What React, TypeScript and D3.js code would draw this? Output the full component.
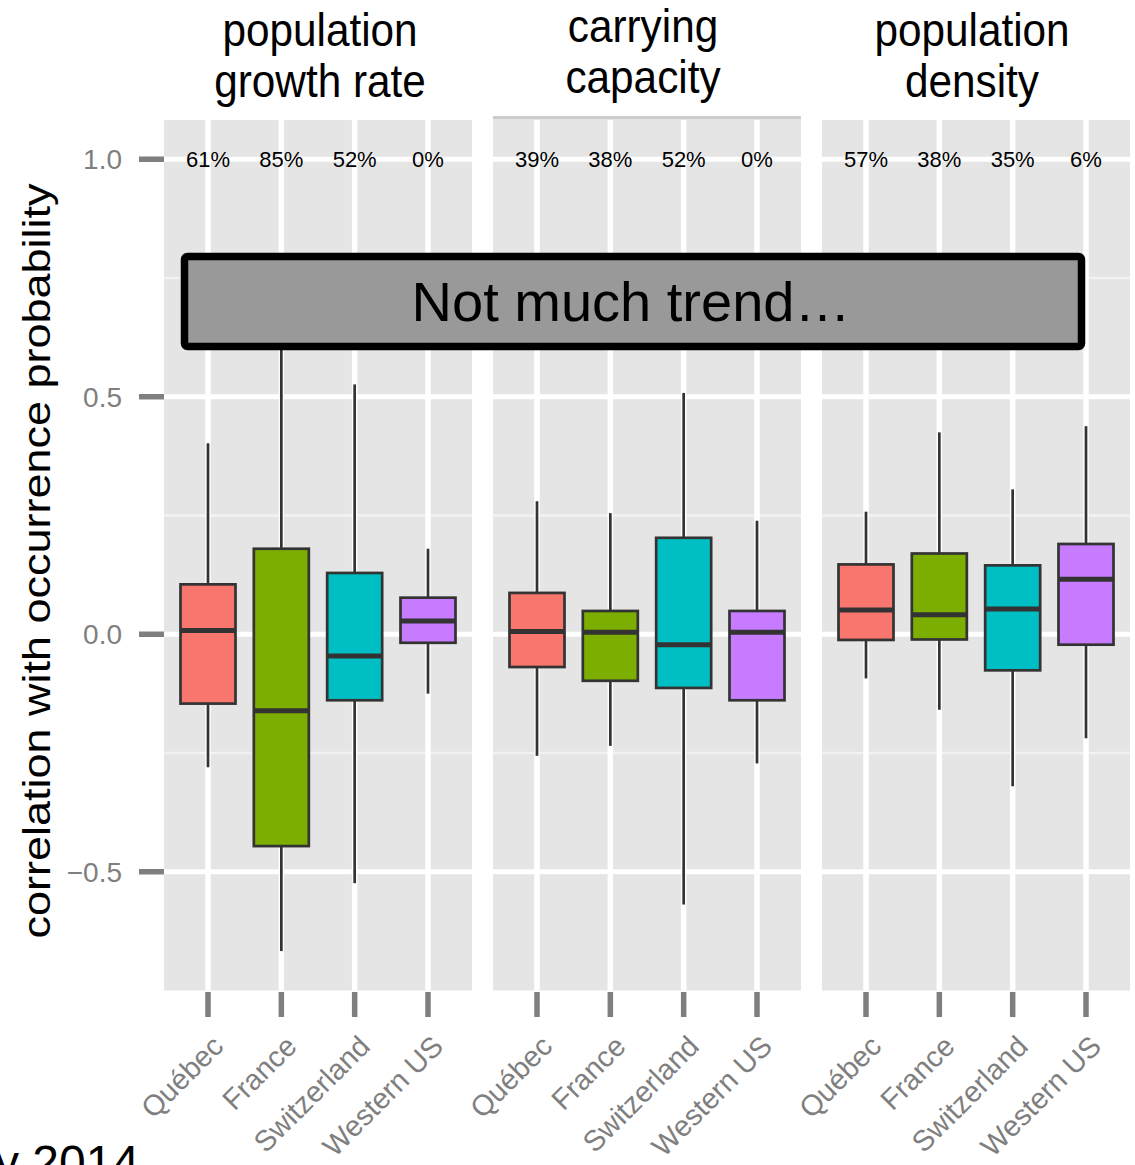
import React from "react";
import * as d3 from "d3";

// Facets (strip titles) and regions on the x axis
const facetTitles = [
  ["population", "growth rate"],
  ["carrying", "capacity"],
  ["population", "density"],
];
const regions = ["Québec", "France", "Switzerland", "Western US"];
const fillColors = ["#F8766D", "#7CAE00", "#00BFC4", "#C77CFF"];

// Share of significant correlations per region, one list per facet
const growthPct = ["61%", "85%", "52%", "0%"];
const capacityPct = ["39%", "38%", "52%", "0%"];
const densityPct = ["57%", "38%", "35%", "6%"];

// Box statistics per region: [lower whisker, Q1, median, Q3, upper whisker]
const growthStats = [
  [-0.28, -0.146, 0.008, 0.105, 0.402],
  [-0.667, -0.446, -0.161, 0.18, 0.8],
  [-0.524, -0.139, -0.046, 0.129, 0.526],
  [-0.125, -0.018, 0.028, 0.077, 0.18],
];
const capacityStats = [
  [-0.256, -0.069, 0.006, 0.087, 0.28],
  [-0.235, -0.098, 0.004, 0.049, 0.255],
  [-0.569, -0.113, -0.022, 0.203, 0.508],
  [-0.272, -0.139, 0.004, 0.049, 0.239],
];
const densityStats = [
  [-0.093, -0.012, 0.051, 0.147, 0.258],
  [-0.159, -0.011, 0.041, 0.17, 0.425],
  [-0.32, -0.076, 0.053, 0.145, 0.305],
  [-0.219, -0.022, 0.116, 0.19, 0.438],
];

const majorTicks = [-0.5, 0, 0.5, 1.0];
const majorTickLabels = ["\u22120.5", "0.0", "0.5", "1.0"];
const minorTicks = [-0.25, 0.25, 0.75];

const annotationText = "Not much trend\u2026";
const yAxisTitle = "correlation with occurrence probability";
const footnote = "y 2014";

const pctByFacet = [growthPct, capacityPct, densityPct];
const statsByFacet = [growthStats, capacityStats, densityStats];

const W = 1135;
const H = 1165;
const panelLefts = [164, 493, 822];
const titleCenters = [320, 643, 972];
const titleBaselines = [46, 42, 46];
const panelWidth = 308;
const panelTop = 120;
const panelBottom = 990.5;
const FONT = "'Liberation Sans', Arial, Helvetica, sans-serif";
const axisGray = "#7F7F7F";

export default function App() {
  const y = d3.scaleLinear().domain([-0.75, 1.0826]).range([panelBottom, panelTop]);

  return (
    <svg
      width={W}
      height={H}
      viewBox={`0 0 ${W} ${H}`}
      style={{ position: "absolute", left: 0, top: 0, background: "#fff" }}
      fontFamily={FONT}
    >
      {panelLefts.map((left, pi) => {
        const x = d3
          .scalePoint<string>()
          .domain(regions)
          .range([left, left + panelWidth])
          .padding(0.6);
        const step = x.step();
        const boxW = step * 0.75;
        const stats = statsByFacet[pi];
        const pct = pctByFacet[pi];
        return (
          <g key={pi}>
            <rect
              x={left}
              y={panelTop}
              width={panelWidth}
              height={panelBottom - panelTop}
              fill="#E5E5E5"
            />
            {minorTicks.map((t) => (
              <line
                key={"mn" + t}
                x1={left}
                x2={left + panelWidth}
                y1={y(t)}
                y2={y(t)}
                stroke="#F2F2F2"
                strokeWidth={2.7}
              />
            ))}
            {majorTicks.map((t) => (
              <line
                key={"mj" + t}
                x1={left}
                x2={left + panelWidth}
                y1={y(t)}
                y2={y(t)}
                stroke="#FFFFFF"
                strokeWidth={5}
              />
            ))}
            {regions.map((r) => (
              <line
                key={"v" + r}
                x1={x(r)}
                x2={x(r)}
                y1={panelTop}
                y2={panelBottom}
                stroke="#FFFFFF"
                strokeWidth={5.5}
              />
            ))}
            {regions.map((r, i) => {
              const [lo, q1, med, q3, hi] = stats[i];
              const cx = x(r) as number;
              return (
                <g key={"b" + r}>
                  <line x1={cx} x2={cx} y1={y(lo)} y2={y(q1)} stroke="#333333" strokeWidth={2.7} />
                  <line x1={cx} x2={cx} y1={y(q3)} y2={y(hi)} stroke="#333333" strokeWidth={2.7} />
                  <rect
                    x={cx - boxW / 2}
                    y={y(q3)}
                    width={boxW}
                    height={y(q1) - y(q3)}
                    fill={fillColors[i]}
                    stroke="#333333"
                    strokeWidth={2.7}
                  />
                  <line
                    x1={cx - boxW / 2}
                    x2={cx + boxW / 2}
                    y1={y(med)}
                    y2={y(med)}
                    stroke="#333333"
                    strokeWidth={5}
                  />
                </g>
              );
            })}
            {regions.map((r, i) => (
              <text
                key={"p" + r}
                x={x(r)}
                y={y(1.0) + 8}
                textAnchor="middle"
                fontSize={22}
                fill="#000"
              >
                {pct[i]}
              </text>
            ))}
            {regions.map((r) => (
              <line
                key={"xt" + r}
                x1={x(r)}
                x2={x(r)}
                y1={992}
                y2={1017}
                stroke={axisGray}
                strokeWidth={5.5}
              />
            ))}
            {regions.map((r) => (
              <text
                key={"xl" + r}
                transform={`translate(${(x(r) as number) + 17},${1048}) rotate(-45)`}
                textAnchor="end"
                fontSize={29}
                fill={axisGray}
              >
                {r}
              </text>
            ))}
            {pi === 1 && (
              <rect x={left} y={116} width={panelWidth} height={3.5} fill="#CCCCCC" />
            )}
            {facetTitles[pi].map((line, li) => (
              <text
                key={"t" + li}
                transform={`translate(${titleCenters[pi]},${titleBaselines[pi] + li * 51}) scale(0.9,1)`}
                textAnchor="middle"
                fontSize={47}
                fill="#000"
              >
                {line}
              </text>
            ))}
          </g>
        );
      })}

      {/* y axis ticks and labels */}
      {majorTicks.map((t, i) => (
        <g key={"yt" + t}>
          <line x1={139} x2={164} y1={y(t)} y2={y(t)} stroke={axisGray} strokeWidth={5.5} />
          <text
            x={122}
            y={y(t) + 10}
            textAnchor="end"
            fontSize={28}
            fill={axisGray}
          >
            {majorTickLabels[i]}
          </text>
        </g>
      ))}

      <text
        transform={`translate(50,561) rotate(-90) scale(1,0.88)`}
        textAnchor="middle"
        fontSize={45}
        fill="#000"
      >
        {yAxisTitle}
      </text>

      {/* annotation banner */}
      <rect
        x={184.5}
        y={256.5}
        width={897}
        height={90}
        rx={3}
        fill="#999999"
        stroke="#000"
        strokeWidth={7.5}
      />
      <text x={631} y={321} textAnchor="middle" fontSize={56} fill="#000">
        {annotationText}
      </text>

      <text x={-5} y={1179} fontSize={48} fill="#000">
        {footnote}
      </text>
    </svg>
  );
}
